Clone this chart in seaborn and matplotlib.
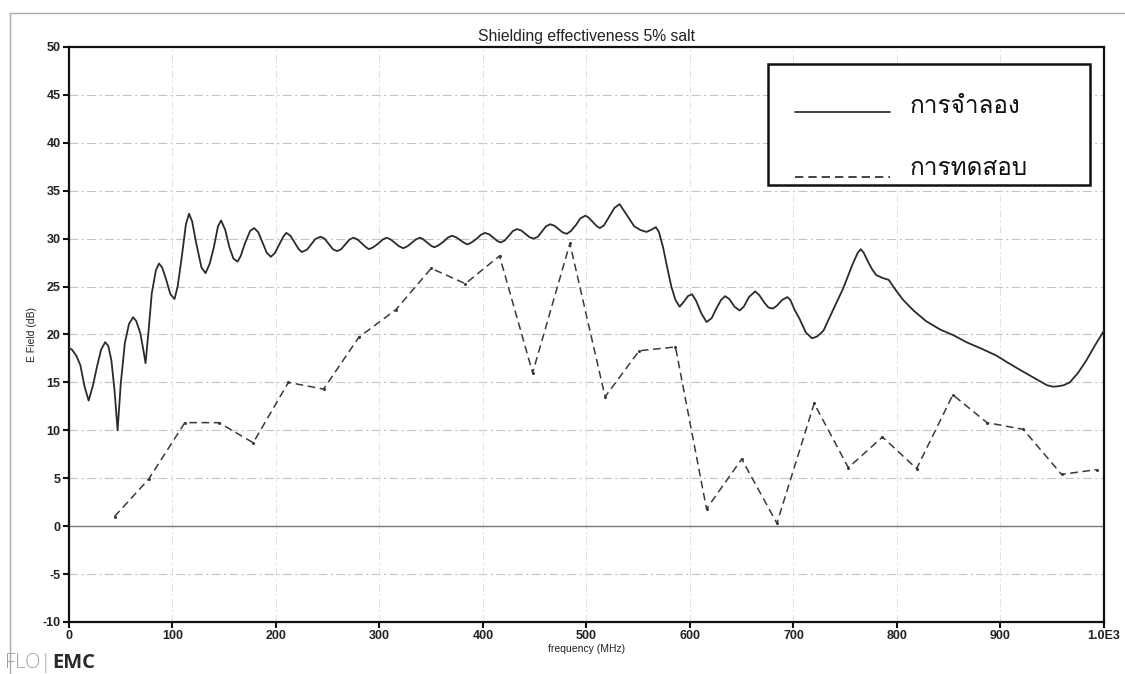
import numpy as np
import pandas as pd
import matplotlib
matplotlib.use("Agg")
import matplotlib.pyplot as plt
import seaborn as sns
from matplotlib.lines import Line2D
from matplotlib.patches import Rectangle

# simulated shielding curve (solid)
sim_freq = [0, 3, 7, 11, 15, 19, 23, 27, 31, 35, 38, 41, 44, 47, 50, 54, 58, 62, 65, 69,
            72, 74, 77, 80, 84, 87, 90, 94, 98, 102, 105, 109, 113, 116, 119, 123, 128,
            132, 136, 140, 144, 147, 151, 155, 159, 163, 166, 170, 175, 179, 183, 187,
            191, 195, 199, 203, 207, 210, 214, 218, 222, 225, 230, 234, 238, 243, 247,
            251, 255, 259, 263, 267, 271, 275, 279, 283, 287, 290, 294, 299, 303, 307,
            311, 315, 319, 323, 327, 331, 335, 339, 342, 346, 350, 353, 357, 362, 366,
            370, 374, 378, 382, 385, 389, 394, 398, 402, 406, 410, 414, 417, 421, 425,
            429, 433, 437, 441, 445, 449, 453, 457, 461, 465, 469, 473, 477, 481, 485,
            490, 494, 499, 502, 506, 510, 513, 517, 522, 527, 532, 540, 546, 552, 558,
            563, 567, 570, 574, 578, 582, 586, 590, 594, 598, 602, 606, 611, 616, 621,
            625, 630, 634, 638, 643, 648, 652, 657, 663, 667, 672, 676, 680, 684, 689,
            694, 697, 701, 706, 712, 718, 723, 729, 738, 748, 757, 762, 765, 768, 772,
            776, 780, 786, 792, 799, 806, 816, 828, 842, 855, 867, 882, 896, 908, 919,
            932, 945, 951, 956, 961, 967, 975, 983, 991, 1000]
sim_db = [18.6, 18.4, 17.8, 16.8, 14.6, 13.1, 14.6, 16.6, 18.4, 19.2, 18.8, 17.3, 14.2,
          10.0, 14.8, 19.1, 21.1, 21.8, 21.4, 20.1, 18.3, 17.0, 20.5, 24.3, 26.7, 27.4,
          27.0, 25.7, 24.2, 23.7, 25.0, 28.1, 31.5, 32.6, 31.8, 29.5, 27.0, 26.4, 27.4,
          29.1, 31.3, 31.9, 30.9, 29.1, 27.9, 27.6, 28.2, 29.5, 30.8, 31.1, 30.65, 29.6,
          28.55, 28.1, 28.5, 29.35, 30.2, 30.6, 30.3, 29.6, 28.9, 28.6, 28.85, 29.4,
          29.95, 30.2, 30.0, 29.45, 28.9, 28.7, 28.9, 29.4, 29.9, 30.1, 29.9, 29.5, 29.1,
          28.9, 29.1, 29.5, 29.9, 30.1, 29.9, 29.55, 29.2, 29.0, 29.2, 29.55, 29.9, 30.1,
          29.95, 29.6, 29.25, 29.1, 29.3, 29.7, 30.1, 30.3, 30.15, 29.85, 29.55, 29.4,
          29.6, 30.0, 30.4, 30.6, 30.45, 30.1, 29.75, 29.6, 29.8, 30.3, 30.8, 31.0, 30.85,
          30.5, 30.15, 30.0, 30.2, 30.75, 31.3, 31.5, 31.35, 31.0, 30.65, 30.5, 30.8,
          31.45, 32.1, 32.4, 32.2, 31.75, 31.3, 31.1, 31.4, 32.3, 33.2, 33.6, 32.3, 31.3,
          30.9, 30.7, 30.95, 31.2, 30.7, 29.1, 27.0, 25.0, 23.6, 22.9, 23.4, 24.0, 24.2,
          23.5, 22.2, 21.3, 21.7, 22.6, 23.6, 24.0, 23.7, 22.9, 22.5, 22.9, 23.9, 24.5,
          24.1, 23.3, 22.8, 22.7, 23.0, 23.6, 23.9, 23.6, 22.6, 21.6, 20.2, 19.6, 19.8,
          20.4, 22.5, 24.8, 27.3, 28.5, 28.9, 28.5, 27.6, 26.8, 26.2, 25.9, 25.7, 24.6,
          23.6, 22.5, 21.4, 20.5, 19.9, 19.2, 18.5, 17.8, 17.0, 16.3, 15.5, 14.7, 14.55,
          14.6, 14.7, 15.0, 16.0, 17.3, 18.8, 20.4]

# measured points (dashed)
test_freq = [44, 77, 112, 145, 178, 212, 246, 280, 316, 350, 383, 416, 448, 484, 518,
             551, 586, 616, 650, 684, 720, 753, 786, 819, 854, 887, 922, 959, 993]
test_db = [1.0, 4.9, 10.8, 10.8, 8.7, 15.0, 14.3, 19.7, 22.6, 26.9, 25.3, 28.2, 16.0,
           29.5, 13.5, 18.3, 18.7, 1.8, 7.0, 0.3, 12.8, 6.1, 9.3, 6.0, 13.7, 10.8, 10.1,
           5.4, 5.9]

x_ticks = [0, 100, 200, 300, 400, 500, 600, 700, 800, 900, 1000]
x_tick_labels = ["0", "100", "200", "300", "400", "500", "600", "700", "800", "900", "1.0E3"]
y_ticks = list(range(-10, 55, 5))
legend_labels = ["การจำลอง", "การทดสอบ"]

sns.set_theme(style="white")
plt.rcParams["font.family"] = ["Liberation Sans", "DejaVu Sans"]
plt.rcParams["axes.unicode_minus"] = False
thai_family = ["Loma", "Noto Sans Thai Looped", "DejaVu Sans"]

sim_df = pd.DataFrame({"freq": sim_freq, "db": sim_db})
test_df = pd.DataFrame({"freq": test_freq, "db": test_db})

fig = plt.figure(figsize=(11.25, 6.74), dpi=100)
ax = fig.add_axes([0.0613, 0.0772, 0.9200, 0.8531])

ax.axhline(0, color="#777777", lw=1.0, zorder=1)
for yv in y_ticks:
    if yv not in (0, -10, 50):
        ax.axhline(yv, color="#c4c4c4", lw=0.8, ls=(0, (8, 3, 2, 3)), zorder=0)
for xv in x_ticks[1:-1]:
    ax.axvline(xv, color="#e2e2e2", lw=0.7, ls=(0, (8, 3, 2, 3)), zorder=0)

sns.lineplot(data=sim_df, x="freq", y="db", ax=ax, color="#2b2b2b", lw=1.3,
             sort=False, zorder=3)
sns.lineplot(data=test_df, x="freq", y="db", ax=ax, color="#3a3a3a", lw=1.1,
             linestyle=(0, (5, 3)), marker="o", markersize=2.2,
             markeredgewidth=0, sort=False, zorder=3)

ax.set_xlim(0, 1000)
ax.set_ylim(-10, 50)
ax.set_xticks(x_ticks)
ax.set_xticklabels(x_tick_labels)
ax.set_yticks(y_ticks)
ax.tick_params(axis="both", direction="out", length=4, width=1.5, colors="#111111",
               labelsize=9, pad=2, bottom=True, left=True)
for lab in ax.get_xticklabels() + ax.get_yticklabels():
    lab.set_fontweight("bold")
    lab.set_color("#222222")
for side in ["left", "bottom", "top", "right"]:
    ax.spines[side].set_color("#111111")
    ax.spines[side].set_linewidth(1.6)

ax.set_xlabel("frequency (MHz)", fontsize=7.5, labelpad=1, color="#222222")
ax.set_ylabel("E Field (dB)", fontsize=7.5, labelpad=4, color="#222222")
ax.set_title("Shielding effectiveness 5% salt", fontsize=11.3, pad=4, color="#222222")

# boxed legend, drawn by hand to keep the wide right margin of the original
ax.add_patch(Rectangle((0.6754, 0.7600), 0.3111, 0.2104, transform=ax.transAxes,
                       facecolor="white", edgecolor="#111111", lw=1.8, zorder=5))
ax.add_line(Line2D([0.7014, 0.7932], [0.8870, 0.8870], transform=ax.transAxes,
                   color="#222222", lw=1.2, zorder=6))
ax.add_line(Line2D([0.7014, 0.7932], [0.7739, 0.7739], transform=ax.transAxes,
                   color="#222222", lw=1.2, ls=(0, (5, 3)), zorder=6))
for yv, lab in zip([0.8852, 0.7774], legend_labels):
    ax.text(0.8126, yv, lab, transform=ax.transAxes, fontsize=17.5, va="baseline",
            family=thai_family, color="#111111", zorder=6)

# outer frame of the exported chart
fig.add_artist(Line2D([10 / 1125, 10 / 1125], [0, 1 - 13 / 674], transform=fig.transFigure,
                      color="#aaaaaa", lw=1.0))
fig.add_artist(Line2D([10 / 1125, 1], [1 - 13 / 674, 1 - 13 / 674], transform=fig.transFigure,
                      color="#aaaaaa", lw=1.0))

# FLO|EMC logo: grey part, then bold part placed right after it
logo = fig.text(5 / 1125, 1 - 663 / 674, "FLO|", fontsize=14.5, color="#a0a0a0",
                va="center", family="Open Sans", fontweight="light")
fig.canvas.draw()
bb = logo.get_window_extent()
fig.text(bb.x1 / fig.bbox.width + 1 / 1125, 1 - 663 / 674, "EMC", fontsize=14.5,
         color="#2a2a2a", va="center", family="Open Sans", fontweight="bold")

fig.savefig("out.png", dpi=100)
